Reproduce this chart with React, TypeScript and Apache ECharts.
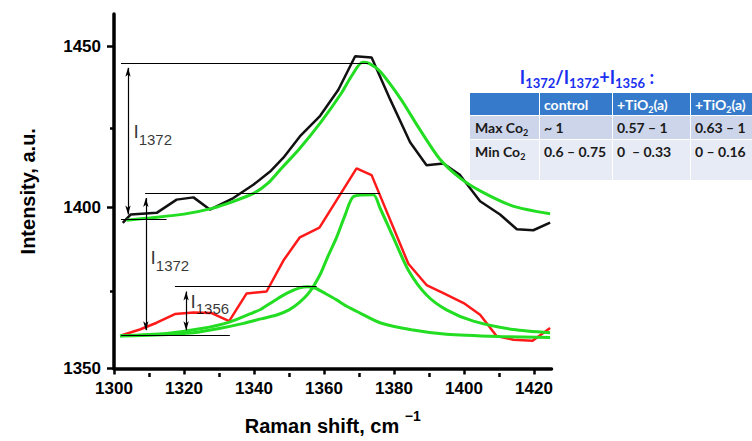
import React, { useEffect, useRef } from 'react';
import * as echarts from 'echarts';

// ---- axes ----
const xMajorTicks = [1300, 1320, 1340, 1360, 1380, 1400, 1420];
const xMinorTicks = [1310, 1330, 1350, 1370, 1390, 1410];
const yMajorTicks = [1350, 1400, 1450];
const yMinorTicks = [1375, 1425];

// ---- upper spectrum (black) and its fit (green) ----
const blackX = [1302.5, 1304.8, 1312.2, 1317.9, 1322.7, 1327.4, 1334.1, 1339.8, 1344.6, 1348.4, 1353.1, 1358.9, 1364.1, 1368.9, 1373.6, 1378.9, 1384.6, 1389.3, 1394.1, 1398.9, 1404.6, 1410.3, 1415.1, 1419.8, 1424.6];
const blackY = [1395.2, 1397.8, 1398.3, 1402.4, 1403.1, 1399.3, 1402.9, 1407.0, 1411.1, 1415.4, 1422.0, 1428.4, 1436.5, 1446.9, 1446.5, 1433.5, 1420.2, 1413.1, 1413.6, 1410.0, 1401.9, 1397.8, 1393.2, 1392.9, 1395.3];
const fitUpperX = [1303.6, 1310, 1320, 1328, 1334, 1340, 1344, 1348, 1353, 1359, 1365, 1368, 1371, 1373, 1376, 1382, 1387, 1393, 1399, 1405, 1414, 1424.6];
const fitUpperY = [1396.0, 1396.7, 1397.9, 1399.7, 1401.8, 1404.4, 1407.5, 1412.3, 1418.2, 1426.3, 1435.5, 1441.0, 1445.0, 1444.6, 1442.2, 1433.5, 1424.8, 1415.1, 1409.0, 1404.9, 1400.4, 1398.0];

// ---- lower spectrum (red) and its two components (green) ----
const redX = [1302.2, 1307.4, 1312.2, 1317.4, 1322.7, 1327.9, 1332.9, 1337.9, 1343.6, 1348.4, 1353.1, 1358.7, 1369.3, 1373.6, 1384.1, 1389.3, 1394.1, 1399.9, 1404.6, 1409.3, 1414.1, 1419.6, 1424.6];
const redY = [1360.3, 1362.1, 1364.2, 1366.9, 1367.4, 1367.2, 1364.7, 1373.3, 1373.9, 1383.5, 1390.7, 1393.7, 1412.1, 1410.0, 1382.5, 1375.9, 1373.4, 1370.3, 1366.7, 1360.1, 1358.9, 1358.6, 1362.6];
const fit1372X = [1301.7, 1312, 1322.7, 1330, 1337, 1342, 1346.5, 1350, 1353, 1356, 1359, 1361, 1363.6, 1366, 1368.5, 1374.1, 1376, 1379.8, 1384.1, 1389.3, 1395, 1402.7, 1414.1, 1424.6];
const fit1372Y = [1360.1, 1360.4, 1361.1, 1362.4, 1364.0, 1365.4, 1366.6, 1368.2, 1370.5, 1373.9, 1379.4, 1384.5, 1390.7, 1397.5, 1403.4, 1403.9, 1399.8, 1390.7, 1380.5, 1372.8, 1368.2, 1364.7, 1362.1, 1361.1];
const fit1356X = [1301.7, 1315, 1325, 1333, 1339, 1342, 1345.5, 1349.3, 1353, 1355.5, 1357.6, 1360.5, 1363.6, 1366.5, 1370.3, 1376, 1385, 1395, 1410, 1424.6];
const fit1356Y = [1360.2, 1360.9, 1362.4, 1364.4, 1367.0, 1368.4, 1370.8, 1373.3, 1375.0, 1375.4, 1374.9, 1373.2, 1371.3, 1369.3, 1367.2, 1364.2, 1362.0, 1360.6, 1359.9, 1359.6];

// ---- annotation guides [x1, y1, x2, y2] ----
const guideLines = [
  [1302, 1444.8, 1372.6, 1444.8],
  [1302, 1396.3, 1315, 1396.3],
  [1308.9, 1404.4, 1376, 1404.4],
  [1302, 1360.4, 1333.1, 1360.4],
  [1317.4, 1375.4, 1357.9, 1375.4],
];
const arrowLines = [
  [1304, 1444.8, 1304, 1396.3],
  [1309.1, 1404.4, 1309.1, 1360.4],
  [1320.6, 1375.4, 1320.6, 1360.4],
];
const labelX = [1305.4, 1310.3, 1321.7];
const labelY = [1423.4, 1384.3, 1370.8];
const labelSub = ['1372', '1372', '1356'];

// ---- table ----
const tableTitle = ['I', '1372', '/I', '1372', '+I', '1356', ' :'];
const tableHeader = ['', 'control', '+TiO₂(a)', '+TiO₂(a)'];
const tableRows = [
  ['Max Co₂', '~ 1', '0.57 – 1', '0.63 – 1'],
  ['Min Co₂', '0.6 – 0.75', '0  – 0.33', '0 – 0.16'],
];

const AX_FONT = 'Liberation Sans, Arial, sans-serif';
const TB_FONT = 'Lato';

function zip(xs: number[], ys: number[]) {
  return xs.map((x, i) => [x, ys[i]]);
}

function toRich(s: string, mainKey: string, subKey: string) {
  const parts = s.split('₂');
  let out = '';
  parts.forEach((p, i) => {
    if (p) out += `{${mainKey}|${p}}`;
    if (i < parts.length - 1) out += `{${subKey}|2}`;
  });
  return out || ' ';
}

export default function App() {
  const ref = useRef<HTMLDivElement>(null);
  useEffect(() => {
    if (!ref.current) return;
    const chart = echarts.init(ref.current, null, { renderer: 'svg' });

    const gridPos = { left: 114, right: 200.5, top: 14, bottom: 68 };
    const green = '#22dd22';
    const arrowInset = 1.5;

    const markData: any[] = [];
    guideLines.forEach(([x1, y1, x2, y2]) => {
      markData.push([
        { coord: [x1, y1], symbol: 'none' },
        { coord: [x2, y2], symbol: 'none' },
      ]);
    });
    arrowLines.forEach(([x1, y1, x2, y2]) => {
      const dir = y1 > y2 ? 1 : -1;
      markData.push([
        { coord: [x1, y1 - dir * arrowInset], symbol: 'arrow' },
        { coord: [x2, y2 + dir * arrowInset], symbol: 'arrow' },
      ]);
    });

    // table graphics
    const colX = [470, 539, 612, 690, 752];
    const rowY = [93, 115, 139, 180];
    const rowFill = ['#367bcb', '#cdd5ea', '#e7ebf5'];
    const rowTextY = [104, 127, 151];
    const allRows = [tableHeader, ...tableRows];
    const graphics: any[] = [];
    allRows.forEach((row, r) => {
      row.forEach((cell, c) => {
        graphics.push({
          type: 'rect',
          silent: true,
          shape: {
            x: colX[c] + (c > 0 ? 1 : 0),
            y: rowY[r] + (r > 0 ? 1 : 0),
            width: colX[c + 1] - colX[c] - (c > 0 ? 1 : 0),
            height: rowY[r + 1] - rowY[r] - (r > 0 ? 1 : 0),
          },
          style: { fill: rowFill[r] },
        });
        if (cell) {
          const color = r === 0 ? '#ffffff' : '#1a1a1a';
          graphics.push({
            type: 'text',
            silent: true,
            x: colX[c] + 5,
            y: rowTextY[r],
            style: {
              text: toRich(cell, 'm', 's'),
              verticalAlign: 'middle',
              align: 'left',
              rich: {
                m: { fontFamily: TB_FONT, fontWeight: 'bold', fontSize: 14, fill: color },
                s: { fontFamily: TB_FONT, fontWeight: 'bold', fontSize: 9, fill: color, padding: [11, 0, 0, 0] },
              },
            },
          });
        }
      });
    });
    let titleRich = '';
    tableTitle.forEach((t, i) => {
      titleRich += `{${i % 2 === 0 ? 'm' : 's'}|${t}}`;
    });
    graphics.push({
      type: 'text',
      silent: true,
      x: 587,
      y: 77,
      style: {
        text: titleRich,
        align: 'center',
        verticalAlign: 'middle',
        rich: {
          m: { fontFamily: TB_FONT, fontWeight: 'bold', fontSize: 18, fill: '#1a2ff0' },
          s: { fontFamily: TB_FONT, fontWeight: 'bold', fontSize: 13, fill: '#1a2ff0', padding: [12, 0, 0, 0] },
        },
      },
    });

    const tickLabel = {
      fontSize: 17, fontWeight: 'bold', color: '#000', fontFamily: AX_FONT,
      formatter: (v: number) => String(v),
    };

    const option: any = {
      animation: false,
      textStyle: { fontFamily: AX_FONT },
      grid: [gridPos, gridPos],
      xAxis: [
        {
          type: 'value', gridIndex: 0, min: 1300, max: 1425,
          axisLine: { onZero: false, lineStyle: { color: '#000', width: 3.5 } },
          axisTick: { customValues: xMajorTicks, length: 6, lineStyle: { color: '#000', width: 2.5 } },
          axisLabel: { ...tickLabel, customValues: xMajorTicks, margin: 11 },
          splitLine: { show: false },
          name: '{a|Raman shift, cm }{b|−1}',
          nameLocation: 'middle',
          nameGap: 40,
          nameTextStyle: {
            rich: {
              a: { fontSize: 20, fontWeight: 'bold', fontFamily: AX_FONT, color: '#000' },
              b: { fontSize: 14, fontWeight: 'bold', fontFamily: AX_FONT, color: '#000', padding: [0, 0, 21, 0] },
            },
          },
        },
        {
          type: 'value', gridIndex: 1, min: 1300, max: 1425,
          axisLine: { show: false, onZero: false },
          axisTick: { customValues: xMinorTicks, length: 4, lineStyle: { color: '#000', width: 2.5 } },
          axisLabel: { show: false },
          splitLine: { show: false },
        },
      ],
      yAxis: [
        {
          type: 'value', gridIndex: 0, min: 1350, max: 1460,
          axisLine: { show: true, onZero: false, lineStyle: { color: '#000', width: 3.5 } },
          axisTick: { show: true, customValues: yMajorTicks, length: 7, lineStyle: { color: '#000', width: 2.5 } },
          axisLabel: { ...tickLabel, customValues: yMajorTicks, margin: 13 },
          splitLine: { show: false },
          name: 'Intensity, a.u.',
          nameLocation: 'middle',
          nameGap: 76,
          nameTextStyle: { fontSize: 20, fontWeight: 'bold', fontFamily: AX_FONT, color: '#000' },
        },
        {
          type: 'value', gridIndex: 1, min: 1350, max: 1460,
          axisLine: { show: false, onZero: false },
          axisTick: { show: true, customValues: yMinorTicks, length: 4, lineStyle: { color: '#000', width: 2.5 } },
          axisLabel: { show: false },
          splitLine: { show: false },
        },
      ],
      series: [
        {
          type: 'line', name: 'upper', data: zip(blackX, blackY), showSymbol: false, silent: true,
          lineStyle: { color: '#111', width: 2.5 }, z: 2,
        },
        {
          type: 'line', name: 'lower', data: zip(redX, redY), showSymbol: false, silent: true,
          lineStyle: { color: '#ff1a1a', width: 2.5 }, z: 2,
        },
        {
          type: 'line', name: 'fit upper', data: zip(fitUpperX, fitUpperY), showSymbol: false, silent: true,
          smooth: 0.25, lineStyle: { color: green, width: 3 }, z: 3,
        },
        {
          type: 'line', name: 'fit 1372', data: zip(fit1372X, fit1372Y), showSymbol: false, silent: true,
          smooth: 0.25, lineStyle: { color: green, width: 3 }, z: 3,
        },
        {
          type: 'line', name: 'fit 1356', data: zip(fit1356X, fit1356Y), showSymbol: false, silent: true,
          smooth: 0.25, lineStyle: { color: green, width: 3 }, z: 3,
        },
        {
          type: 'scatter', name: 'labels', silent: true, z: 4,
          data: labelX.map((x, i) => [x, labelY[i], labelSub[i]]),
          symbolSize: 1,
          itemStyle: { color: 'rgba(0,0,0,0)' },
          label: {
            show: true,
            position: 'right',
            distance: 0,
            color: '#000',
            formatter: (p: any) => `{m|I}{s|${p.data[2]}}`,
            rich: {
              m: { fontSize: 19, fontFamily: AX_FONT, color: '#000' },
              s: { fontSize: 15, fontFamily: AX_FONT, color: '#000', padding: [15, 0, 0, 0] },
            },
          },
          markLine: {
            silent: true,
            animation: false,
            symbolSize: [4, 9],
            label: { show: false },
            lineStyle: { color: '#000', width: 1.2, type: 'solid', opacity: 1 },
            emphasis: { disabled: true },
            data: markData,
          },
        },
      ],
      graphic: graphics,
    };
    chart.setOption(option);
    return () => chart.dispose();
  }, []);
  return <div ref={ref} style={{ position: 'fixed', left: 0, top: 0, width: 752, height: 441, background: '#fff' }} />;
}
